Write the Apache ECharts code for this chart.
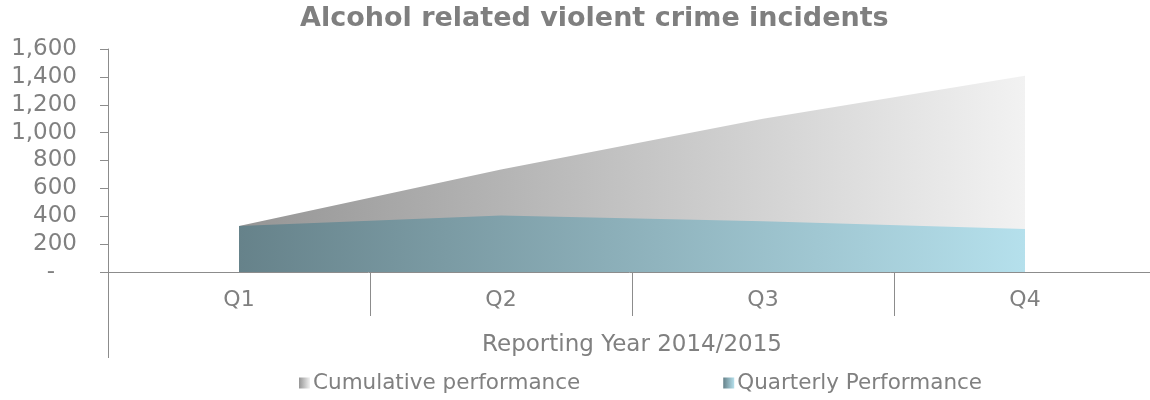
<!DOCTYPE html>
<html>
<head>
<meta charset="utf-8">
<script src="https://cdn.jsdelivr.net/npm/echarts@6/dist/echarts.min.js"></script>
<style>
  html, body { margin: 0; padding: 0; background: #fff; }
  #chart { width: 1150px; height: 400px; }
</style>
</head>
<body>
<div id="chart"></div>
<script>
// Quarters of the reporting year
const quarters = ['Q1', 'Q2', 'Q3', 'Q4'];
// Incidents recorded in each quarter
const quarterly = [330, 405, 365, 308];
// Running total across the year
const cumulative = [330, 735, 1100, 1408];
// Value axis range
const yMin = 0, yMax = 1600, yStep = 200;

const FONT = '"DejaVu Sans", "Liberation Sans", sans-serif';
const TXT = '#808080';
const AXIS = '#8c8c8c';

function hGrad(from, to) {
  return new echarts.graphic.LinearGradient(0, 0, 1, 0, [
    { offset: 0, color: from },
    { offset: 1, color: to }
  ]);
}

const chart = echarts.init(document.getElementById('chart'));

const GRID_LEFT = 108;

chart.setOption({
  animation: false,
  textStyle: { fontFamily: FONT },
  title: {
    text: 'Alcohol related violent crime incidents',
    left: 295,
    top: 0,
    textStyle: { fontFamily: FONT, fontSize: 27, fontWeight: 'bold', color: '#7f7f7f' }
  },
  legend: {
    bottom: 1,
    left: 294,
    icon: 'rect',
    itemWidth: 11,
    itemHeight: 11,
    itemGap: 143,
    textStyle: { fontFamily: FONT, fontSize: 21.5, color: TXT, padding: [0, 0, 0, -2] },
    data: ['Cumulative performance', 'Quarterly Performance']
  },
  grid: {
    left: GRID_LEFT,
    width: 1048,
    top: 49,
    bottom: 128,
    outerBoundsMode: 'none',
    containLabel: false
  },
  xAxis: {
    type: 'category',
    data: quarters,
    boundaryGap: true,
    name: 'Reporting Year 2014/2015',
    nameLocation: 'middle',
    nameGap: 62,
    nameTextStyle: { fontFamily: FONT, fontSize: 23, color: TXT },
    axisLine: { lineStyle: { color: AXIS, width: 1 } },
    axisTick: { show: true, length: 44, lineStyle: { color: AXIS } },
    axisLabel: { margin: 17, fontFamily: FONT, fontSize: 22, color: TXT }
  },
  yAxis: {
    type: 'value',
    min: yMin,
    max: yMax,
    interval: yStep,
    axisLine: { show: true, lineStyle: { color: AXIS, width: 1 } },
    axisTick: { show: true, length: 8, lineStyle: { color: AXIS } },
    splitLine: { show: false },
    axisLabel: {
      margin: 31,
      fontFamily: FONT,
      fontSize: 23,
      color: TXT,
      formatter: v => v === 0 ? '-   ' : v.toLocaleString('en-US')
    }
  },
  series: [
    {
      name: 'Cumulative performance',
      type: 'line',
      data: cumulative,
      symbol: 'none',
      lineStyle: { width: 0 },
      itemStyle: { color: hGrad('#959595', '#f2f2f2') },
      areaStyle: { color: hGrad('#959595', '#f2f2f2'), opacity: 1 },
      z: 1
    },
    {
      name: 'Quarterly Performance',
      type: 'line',
      data: quarterly,
      symbol: 'none',
      lineStyle: { width: 0 },
      itemStyle: { color: hGrad('#66828a', '#b5e0ec') },
      areaStyle: { color: hGrad('#66828a', '#b5e0ec'), opacity: 1 },
      z: 2
    }
  ]
});

// Left frame line continuing below the category axis
const y0 = chart.convertToPixel({ yAxisIndex: 0 }, 0);
chart.setOption({
  graphic: [{
    type: 'line',
    shape: { x1: GRID_LEFT + 0.5, y1: y0, x2: GRID_LEFT + 0.5, y2: y0 + 86 },
    style: { stroke: AXIS, lineWidth: 1 },
    z: 10
  }]
});
</script>
</body>
</html>
